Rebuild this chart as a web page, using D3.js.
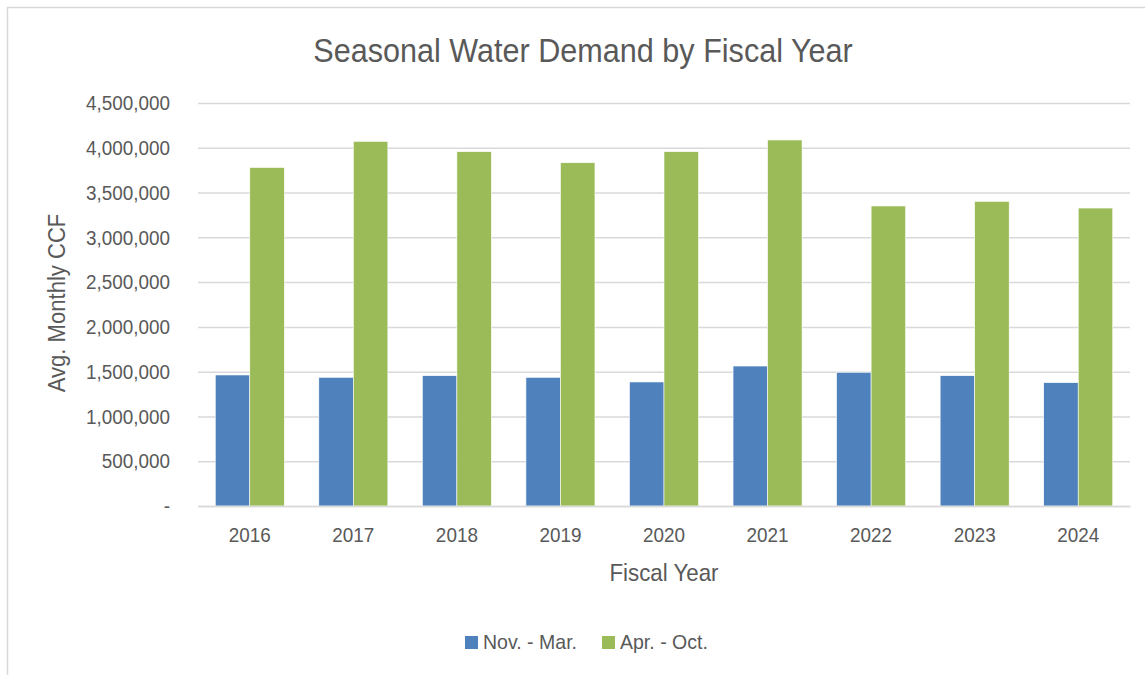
<!DOCTYPE html>
<html>
<head>
<meta charset="utf-8">
<script src="https://cdn.jsdelivr.net/npm/d3@7"></script>
<style>
  body { margin: 0; background: #fff; }
  text { font-family: "Liberation Sans", Arial, sans-serif; fill: #595959; }
</style>
</head>
<body>
<div id="viz"></div>
<script>
// values (avg monthly CCF)
var years = ['2016', '2017', '2018', '2019', '2020', '2021', '2022', '2023', '2024'];
var winter = [1463000, 1437000, 1455000, 1437000, 1385000, 1563000, 1493000, 1455000, 1377000];
var summer = [3780000, 4072000, 3956000, 3833000, 3956000, 4087000, 3350000, 3402000, 3327000];
var seriesNames = ['Nov. - Mar.', 'Apr. - Oct.'];
var seriesColors = ['#4f81bd', '#9bbb59'];
var yTicks = [0, 500000, 1000000, 1500000, 2000000, 2500000, 3000000, 3500000, 4000000, 4500000];

var W = 1145, H = 675;
var margin = { top: 103, right: 15, bottom: 169, left: 198 },
    width = 1130 - margin.left,
    height = 506 - margin.top;

// the original font is a condensed one, squeeze the text a bit
var squeeze = 0.9;

var svg = d3.select('#viz').append('svg')
  .attr('width', W)
  .attr('height', H);

// chart area border (only left + top visible in the crop)
svg.append('path')
  .attr('d', 'M7.5,' + H + 'V7.5H' + W)
  .attr('fill', 'none')
  .attr('stroke', '#d9d9d9')
  .attr('stroke-width', 1.5);

var g = svg.append('g')
  .attr('transform', 'translate(' + margin.left + ',' + margin.top + ')');

var y = d3.scaleLinear()
  .domain([0, 4500000])
  .range([height, 0]);

var x0 = d3.scaleBand()
  .domain(years)
  .range([0, width])
  .padding(0);

var x1 = d3.scaleBand()
  .domain([0, 1])
  .range([x0.bandwidth() / 6, x0.bandwidth() * 5 / 6])
  .padding(0);

// gridlines
var yGuide = g.append('g')
  .call(d3.axisLeft(y).tickValues(yTicks).tickSize(-width).tickFormat(function(d) {
    return d === 0 ? '-' : d3.format(',')(d);
  }));
yGuide.select('.domain').remove();
yGuide.selectAll('line')
  .attr('stroke', '#d9d9d9')
  .attr('stroke-width', 1.5);
yGuide.selectAll('text')
  .attr('x', 0)
  .attr('transform', 'translate(-28,0) scale(' + squeeze + ',1)')
  .style('font-size', '21px')
  .style('fill', '#595959');

var rows = years.map(function(yr, i) {
  return { year: yr, vals: [winter[i], summer[i]] };
});

var groups = g.selectAll('.grp').data(rows)
  .enter().append('g')
  .attr('transform', function(d) { return 'translate(' + x0(d.year) + ',0)'; });

groups.selectAll('rect')
  .data(function(d) { return d.vals; })
  .enter().append('rect')
  .attr('x', function(d, i) { return x1(i); })
  .attr('y', function(d) { return y(d); })
  .attr('width', x1.bandwidth())
  .attr('height', function(d) { return height - y(d); })
  .attr('fill', function(d, i) { return seriesColors[i]; })
  .attr('stroke', '#fff')
  .attr('stroke-width', 0.6);

// x labels
var xGuide = g.append('g')
  .attr('transform', 'translate(0,' + height + ')')
  .call(d3.axisBottom(x0).tickSize(0).tickPadding(21));
xGuide.select('.domain')
  .attr('stroke', '#d9d9d9')
  .attr('stroke-width', 1.5);
xGuide.selectAll('text')
  .attr('transform', 'scale(' + squeeze + ',1)')
  .style('font-size', '21px')
  .style('fill', '#595959');

// title
svg.append('text')
  .attr('transform', 'translate(583,62) scale(' + squeeze + ',1)')
  .attr('text-anchor', 'middle')
  .style('font-size', '34px')
  .text('Seasonal Water Demand by Fiscal Year');

// axis titles
svg.append('text')
  .attr('transform', 'translate(65,303) rotate(-90) scale(0.92,1)')
  .attr('text-anchor', 'middle')
  .style('font-size', '24px')
  .text('Avg. Monthly CCF');

svg.append('text')
  .attr('transform', 'translate(664,581) scale(0.93,1)')
  .attr('text-anchor', 'middle')
  .style('font-size', '24px')
  .text('Fiscal Year');

// legend
var legX = [465, 602];
var leg = svg.selectAll('.leg').data(seriesNames)
  .enter().append('g')
  .attr('transform', function(d, i) { return 'translate(' + legX[i] + ',636)'; });
leg.append('rect')
  .attr('width', 13)
  .attr('height', 13)
  .attr('fill', function(d, i) { return seriesColors[i]; });
leg.append('text')
  .attr('transform', 'translate(18,13) scale(0.93,1)')
  .style('font-size', '21px')
  .text(function(d) { return d; });
</script>
</body>
</html>
